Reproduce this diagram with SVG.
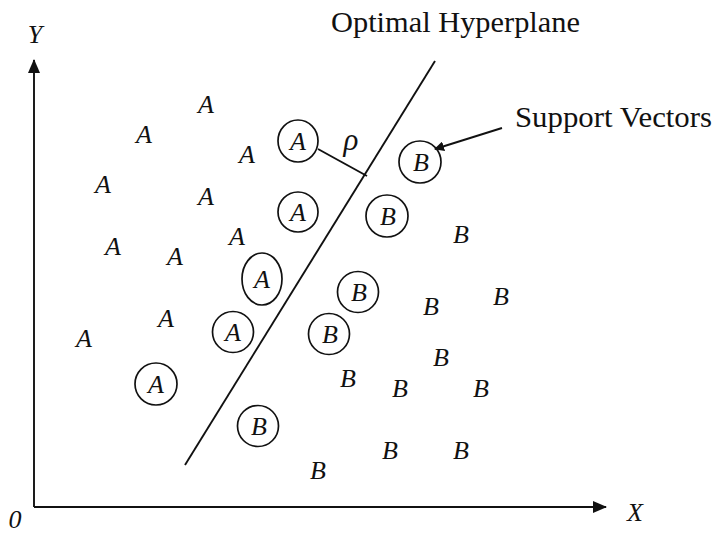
<svg xmlns="http://www.w3.org/2000/svg" width="713" height="534" viewBox="0 0 713 534">
<style>
.pt{font-family:"Liberation Serif","Times New Roman",serif;font-style:italic;font-size:26px;fill:#111;text-anchor:middle}
.lbl{font-family:"Liberation Serif","Times New Roman",serif;font-size:29px;fill:#111}
.ax{font-family:"Liberation Serif","Times New Roman",serif;font-style:italic;font-size:26px;fill:#111;text-anchor:middle}
.c{fill:none;stroke:#111;stroke-width:1.7}
.ln{stroke:#111;stroke-width:1.9;fill:none}
</style>
<defs>
<marker id="ah" markerWidth="10" markerHeight="10" refX="9" refY="5" orient="auto" markerUnits="userSpaceOnUse">
<path d="M0,0 L10,5 L0,10 z" fill="#111"/>
</marker>
<marker id="ah2" markerWidth="14" markerHeight="12" refX="13" refY="6" orient="auto" markerUnits="userSpaceOnUse">
<path d="M0,0 L14,6 L0,12 z" fill="#111"/>
</marker>
</defs>
<rect width="713" height="534" fill="#fff"/>
<g id="axes">
<line class="ln" x1="34" y1="507" x2="34" y2="60" marker-end="url(#ah2)"/>
<line class="ln" x1="34" y1="507" x2="606" y2="507" marker-end="url(#ah2)"/>
<text class="ax" x="35" y="43">Y</text>
<text class="ax" x="15" y="528">0</text>
<text class="ax" x="635" y="521">X</text>
</g>
<g id="connectors">
<line class="ln" x1="185" y1="465" x2="435" y2="61"/>
<line class="ln" x1="318" y1="149" x2="367" y2="176"/>
<line class="ln" x1="502" y1="128" x2="435" y2="149" marker-end="url(#ah)"/>
</g>
<g id="labels">
<text class="lbl" x="331" y="32" textLength="249" lengthAdjust="spacingAndGlyphs">Optimal Hyperplane</text>
<text class="lbl" x="515" y="127" textLength="197" lengthAdjust="spacingAndGlyphs">Support Vectors</text>
<text class="ax" x="351" y="150" style="font-size:31px">ρ</text>
</g>
<g id="class-a">
<text class="pt" x="206" y="113">A</text>
<text class="pt" x="144" y="143">A</text>
<text class="pt" x="247" y="163">A</text>
<text class="pt" x="103" y="193">A</text>
<text class="pt" x="206" y="205">A</text>
<text class="pt" x="113" y="255">A</text>
<text class="pt" x="237" y="245">A</text>
<text class="pt" x="175" y="265">A</text>
<text class="pt" x="166" y="327">A</text>
<text class="pt" x="84" y="347">A</text>
</g>
<g id="sv-a">
<ellipse class="c" cx="298" cy="141" rx="20" ry="21"/><text class="pt" x="298" y="150">A</text>
<ellipse class="c" cx="298" cy="212" rx="20" ry="20"/><text class="pt" x="298" y="221">A</text>
<ellipse class="c" cx="262" cy="279" rx="20" ry="26"/><text class="pt" x="262" y="288">A</text>
<ellipse class="c" cx="233" cy="332" rx="20.5" ry="20.5"/><text class="pt" x="233" y="341">A</text>
<ellipse class="c" cx="156" cy="384" rx="21" ry="21"/><text class="pt" x="156" y="393">A</text>
</g>
<g id="sv-b">
<ellipse class="c" cx="420" cy="162" rx="21" ry="21"/><text class="pt" x="421" y="171">B</text>
<ellipse class="c" cx="387" cy="216" rx="21" ry="21"/><text class="pt" x="388" y="225">B</text>
<ellipse class="c" cx="358" cy="292" rx="20.5" ry="20.5"/><text class="pt" x="359" y="301">B</text>
<ellipse class="c" cx="329" cy="334" rx="20.5" ry="20.5"/><text class="pt" x="330" y="343">B</text>
<ellipse class="c" cx="258" cy="426" rx="20.5" ry="20.5"/><text class="pt" x="259" y="435">B</text>
</g>
<g id="class-b">
<text class="pt" x="461" y="243">B</text>
<text class="pt" x="501" y="305">B</text>
<text class="pt" x="431" y="315">B</text>
<text class="pt" x="441" y="366">B</text>
<text class="pt" x="400" y="397">B</text>
<text class="pt" x="481" y="397">B</text>
<text class="pt" x="348" y="387">B</text>
<text class="pt" x="390" y="459">B</text>
<text class="pt" x="461" y="459">B</text>
<text class="pt" x="318" y="479">B</text>
</g>
</svg>
